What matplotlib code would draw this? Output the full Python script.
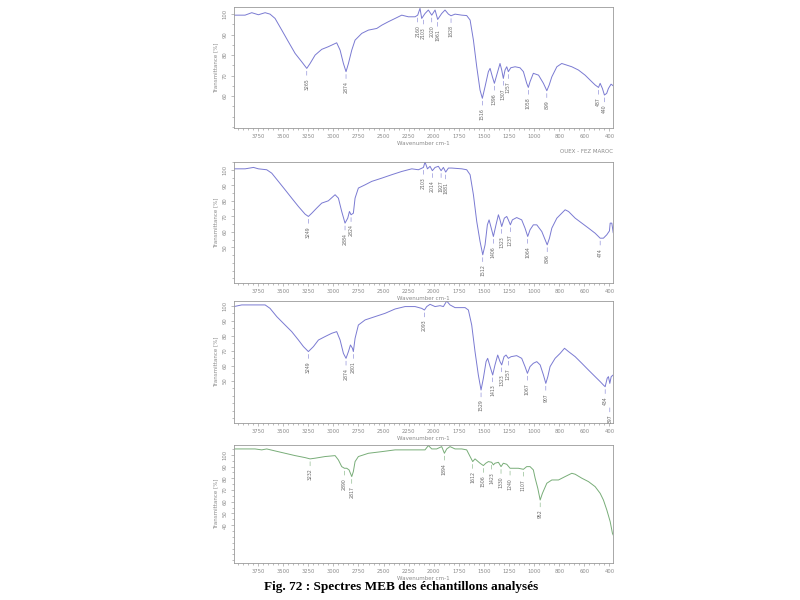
import matplotlib.pyplot as plt
import numpy as np
from matplotlib.ticker import FixedLocator, MultipleLocator

# --- spectrum 1 (blue) ---
wn1 = [3990, 3880, 3813, 3747, 3680, 3631, 3581, 3514, 3448, 3381, 3315, 3265,
       3232, 3182, 3116, 3050, 2967, 2933, 2900, 2874, 2850, 2817, 2784, 2717,
       2651, 2568, 2518, 2452, 2385, 2319, 2253, 2186, 2160, 2137, 2120, 2087,
       2054, 2020, 1987, 1961, 1921, 1888, 1854, 1828, 1788, 1721, 1672, 1638,
       1605, 1572, 1539, 1516, 1489, 1456, 1439, 1416, 1396, 1373, 1340, 1323,
       1307, 1290, 1273, 1257, 1233, 1190, 1141, 1107, 1074, 1058, 1041, 1008,
       965, 926, 899, 880, 859, 819, 780, 740, 700, 647, 594, 541, 514, 487,
       474, 456, 440, 422, 408, 387, 370]
tr1 = [99.5, 99.5, 100.7, 99.7, 100.7, 100.0, 97.9, 92.2, 86.5, 80.8, 76.7, 73.5,
       75.9, 80.0, 82.8, 84.1, 86.0, 82.4, 75.9, 71.9, 75.9, 82.4, 87.3, 90.6,
       92.2, 93.0, 94.6, 96.3, 97.9, 99.5, 98.7, 98.7, 99.5, 102.8, 97.9, 100.3,
       102.0, 99.5, 102.0, 97.4, 100.3, 102.0, 100.0, 99.2, 100.0, 99.5, 99.3, 97.1,
       87.3, 74.3, 62.9, 58.9, 64.6, 71.9, 73.5, 69.4, 66.2, 70.2, 75.9, 72.7,
       68.6, 72.7, 74.3, 71.9, 73.8, 74.3, 73.8, 71.9, 66.2, 64.2, 67.0, 71.1,
       70.2, 66.2, 62.6, 65.4, 69.4, 74.3, 75.9, 75.1, 74.3, 72.7, 70.2, 67.0, 65.4, 64.2,
       66.2, 63.7, 60.5, 61.3, 63.7, 65.8, 65.0]
peaks1 = [3265, 2874, 2160, 2103, 2020, 1961, 1828, 1516, 1396, 1307, 1257, 1058, 899, 487, 440]
pval1 = [73.5, 71.9, 99.5, 98.5, 99.5, 97.4, 99.2, 58.9, 66.2, 68.6, 71.9, 64.2, 62.6, 64.2, 60.5]
plab1 = ["3265", "2874", "2160", "2103", "2020", "1961", "1828", "1516", "1396",
         "1307", "1257", "1058", "899", "487", "440"]

# --- spectrum 2 (blue) ---
wn2 = [3990, 3879, 3796, 3747, 3664, 3614, 3548, 3481, 3415, 3348, 3282, 3249,
       3215, 3166, 3116, 3050, 2983, 2950, 2917, 2884, 2857, 2840, 2824, 2801,
       2784, 2751, 2684, 2618, 2518, 2419, 2319, 2219, 2153, 2103, 2087, 2063,
       2037, 2014, 1987, 1954, 1927, 1904, 1881, 1854, 1821, 1721, 1672, 1638,
       1605, 1572, 1539, 1512, 1489, 1466, 1449, 1423, 1406, 1380, 1356, 1340,
       1323, 1297, 1273, 1257, 1237, 1217, 1174, 1124, 1091, 1064, 1041, 1008,
       979, 939, 912, 896, 878, 859, 819, 780, 753, 726, 673, 620, 567, 514,
       474, 448, 421, 400, 394, 381, 370]
tr2 = [100.6, 100.6, 101.5, 100.6, 100.0, 97.8, 92.5, 87.1, 81.7, 76.3, 71.4, 69.9,
       72.0, 75.3, 78.5, 80.0, 83.9, 81.7, 73.1, 65.6, 68.8, 73.1, 71.0, 72.0,
       81.7, 88.2, 90.3, 92.5, 94.6, 96.8, 98.9, 100.6, 100.0, 101.5, 105.0, 100.6,
       102.2, 99.4, 101.5, 102.2, 99.4, 101.5, 98.5, 101.1, 101.1, 100.6, 100.0, 96.8,
       83.9, 66.7, 53.8, 45.2, 51.6, 64.5, 67.7, 61.3, 57.0, 64.5, 71.0, 67.7,
       63.4, 68.8, 69.9, 67.7, 64.5, 67.7, 69.2, 67.7, 62.4, 57.0, 61.3, 64.5,
       64.5, 60.2, 54.8, 51.6, 55.9, 62.4, 68.8, 72.0, 74.2, 73.1, 68.8, 65.6, 62.4, 59.1,
       55.9, 55.9, 58.1, 60.6, 65.6, 65.6, 59.5]
peaks2 = [3249, 2884, 2824, 2103, 2014, 1927, 1881, 1512, 1406, 1323, 1237, 1064, 896, 474]
pval2 = [69.9, 65.6, 71.0, 101.5, 99.4, 99.4, 98.5, 45.2, 57.0, 63.4, 64.5, 57.0, 51.6, 55.9]
plab2 = ["3249", "2884", "2824", "2103", "2014", "1927", "1881", "1512", "1406",
         "1323", "1237", "1064", "896", "474"]

# --- spectrum 3 (blue) ---
wn3 = [3990, 3913, 3846, 3780, 3680, 3631, 3564, 3481, 3415, 3348, 3298, 3249,
       3199, 3149, 3083, 3016, 2967, 2933, 2900, 2874, 2850, 2830, 2810, 2801,
       2784, 2751, 2684, 2585, 2485, 2385, 2286, 2186, 2120, 2093, 2070, 2037,
       1987, 1937, 1904, 1871, 1838, 1788, 1688, 1655, 1622, 1589, 1556, 1529,
       1506, 1479, 1463, 1439, 1413, 1390, 1363, 1340, 1323, 1300, 1280, 1257,
       1230, 1174, 1124, 1091, 1067, 1041, 1008, 979, 952, 926, 907, 891, 873,
       833, 793, 758, 726, 673, 620, 567, 514, 474, 448, 434, 418, 408, 397, 386, 370]
tr3 = [99.6, 100.7, 100.7, 100.7, 100.7, 98.4, 92.9, 87.3, 82.9, 77.3, 72.9, 69.6,
       72.9, 77.3, 79.6, 81.8, 82.9, 77.3, 68.4, 65.1, 69.6, 74.0, 71.8, 69.6,
       78.4, 87.3, 90.7, 92.9, 95.1, 98.0, 99.6, 99.6, 98.4, 97.3, 99.6, 101.1,
       99.6, 100.2, 99.6, 103.3, 100.7, 98.9, 98.9, 97.3, 87.3, 69.6, 54.0, 44.0,
       51.8, 62.9, 65.1, 59.6, 54.0, 60.7, 67.3, 62.9, 60.7, 66.2, 67.3, 65.1,
       66.2, 66.9, 65.1, 59.6, 55.1, 59.6, 61.8, 62.9, 60.7, 54.0, 48.4, 52.9, 59.6,
       65.1, 68.4, 71.8, 69.6, 66.2, 61.8, 57.3, 52.9, 49.6, 47.3, 46.2, 51.8, 52.9, 48.4, 52.9, 54.0]
peaks3 = [3249, 2874, 2801, 2093, 1529, 1413, 1323, 1257, 1067, 907, 434, 397]
pval3 = [69.6, 65.1, 69.6, 97.3, 44.0, 54.0, 60.7, 65.1, 55.1, 48.4, 46.2, 34.0]
plab3 = ["3249", "2874", "2801", "2093", "1529", "1413", "1323", "1257", "1067",
         "907", "434", "397"]

# --- spectrum 4 (green) ---
wn4 = [3990, 3879, 3780, 3714, 3664, 3581, 3481, 3381, 3282, 3232, 3182, 3083,
       2983, 2950, 2917, 2890, 2867, 2844, 2817, 2801, 2784, 2751, 2651, 2518,
       2385, 2286, 2186, 2087, 2054, 2020, 1971, 1921, 1894, 1871, 1838, 1788,
       1721, 1672, 1638, 1612, 1589, 1539, 1506, 1482, 1456, 1423, 1406, 1390,
       1356, 1330, 1307, 1273, 1240, 1207, 1157, 1107, 1074, 1041, 1008, 992,
       971, 952, 934, 899, 859, 806, 753, 700, 673, 620, 567, 514, 474, 448,
       421, 394, 376, 370]
tr4 = [105.1, 105.1, 105.1, 104.3, 105.1, 103.4, 101.4, 99.4, 97.7, 96.6, 97.2, 98.6,
       99.4, 95.7, 90.0, 88.6, 88.6, 87.2, 81.5, 85.8, 94.3, 98.6, 101.4, 102.8,
       104.3, 104.3, 104.3, 104.3, 108.0, 105.1, 105.1, 107.1, 101.4, 105.1, 107.1, 105.1,
       105.1, 104.3, 98.6, 94.3, 96.6, 92.9, 90.9, 92.9, 94.3, 93.7, 91.5, 92.9,
       93.7, 90.0, 92.9, 92.0, 88.6, 88.6, 88.6, 87.7, 90.0, 90.0, 87.2, 80.1,
       71.5, 61.5, 67.2, 75.8, 78.6, 78.6, 81.5, 84.3, 83.5, 80.1, 77.2, 72.9, 67.2, 61.5,
       53.0, 43.0, 33.0, 31.6]
peaks4 = [3232, 2890, 2817, 1894, 1612, 1506, 1423, 1330, 1240, 1107, 952]
pval4 = [96.6, 88.6, 81.5, 101.4, 94.3, 90.9, 93.7, 90.0, 88.6, 87.7, 61.5]
plab4 = ["3232", "2890", "2817", "1894", "1612", "1506", "1423", "1330", "1240",
         "1107", "952"]

xticks = [3750, 3500, 3250, 3000, 2750, 2500, 2250, 2000, 1750, 1500, 1250, 1000, 800, 600, 400]

BLUE = "#7a7ad2"
GREEN = "#78ad78"
GREY = "#8a8a8a"


def fwd(w):
    w = np.asarray(w, dtype=float)
    return np.where(w >= 1000, w, 1000 - (1000 - w) * 1.25)


def inv(u):
    u = np.asarray(u, dtype=float)
    return np.where(u >= 1000, u, 1000 - (1000 - u) / 1.25)


def panel(fig, rect, wn, tr, peaks, pval, plab, color, yticks, ylim, footer=None):
    ax = fig.add_axes(rect)
    ax.set_xscale("function", functions=(fwd, inv))
    ax.plot(wn, tr, color=color, lw=0.7)
    for x, y, s in zip(peaks, pval, plab):
        ax.annotate(s, xy=(x, y), xytext=(0, -7), textcoords="offset points",
                    rotation=90, ha="center", va="top", fontsize=3.3, color="#666666",
                    arrowprops=dict(arrowstyle="-", color=color, lw=0.4,
                                    shrinkA=0, shrinkB=2))
    ax.set_xlim(3990, 370)
    ax.set_ylim(*ylim)
    ax.xaxis.set_major_locator(FixedLocator(xticks))
    ax.xaxis.set_minor_locator(FixedLocator(list(range(3950, 1000, -50)) +
                                            list(range(1000, 380, -40))))
    ax.set_xticklabels([str(t) for t in xticks])
    ax.set_yticks(yticks)
    ax.yaxis.set_minor_locator(MultipleLocator(5))
    ax.tick_params(which="both", direction="out", colors=GREY, labelsize=3.8,
                   width=0.4, pad=2)
    ax.tick_params(which="major", length=2.5)
    ax.tick_params(which="minor", length=1.5)
    ax.tick_params(axis="y", labelrotation=90)
    for lab in ax.get_yticklabels():
        lab.set_va("center")
    for sp in ax.spines.values():
        sp.set_color("#9a9a9a")
        sp.set_linewidth(0.6)
    ax.set_xlabel("Wavenumber cm-1", fontsize=4, color=GREY, labelpad=1)
    ax.set_ylabel("Transmittance [%]", fontsize=4, color=GREY, labelpad=3)
    if footer:
        ax.text(1.0, -0.17, footer, transform=ax.transAxes, ha="right", va="top",
                fontsize=4, color=GREY)
    return ax


def plot():
    fig = plt.figure(figsize=(8, 6), dpi=100)
    panel(fig, [0.2925, 0.7867, 0.474, 0.2017], wn1, tr1, peaks1, pval1, plab1,
          BLUE, [60, 70, 80, 90, 100], (44.4, 103.5), footer="OUEX - FEZ MAROC")
    panel(fig, [0.2925, 0.5283, 0.474, 0.2017], wn2, tr2, peaks2, pval2, plab2,
          BLUE, [50, 60, 70, 80, 90, 100], (27, 105))
    panel(fig, [0.2925, 0.295, 0.474, 0.2033], wn3, tr3, peaks3, pval3, plab3,
          BLUE, [50, 60, 70, 80, 90, 100], (22, 103.3))
    panel(fig, [0.2925, 0.0617, 0.474, 0.1967], wn4, tr4, peaks4, pval4, plab4,
          GREEN, [40, 50, 60, 70, 80, 90, 100], (7.7, 108.5))
    fig.text(0.502, 0.022, "Fig. 72 : Spectres MEB des échantillons analysés",
             ha="center", va="center", fontsize=9.5, fontweight="bold",
             family="Liberation Serif")
    fig.savefig("out.png", dpi=100)
    return fig


if __name__ == '__main__':
    plot()
